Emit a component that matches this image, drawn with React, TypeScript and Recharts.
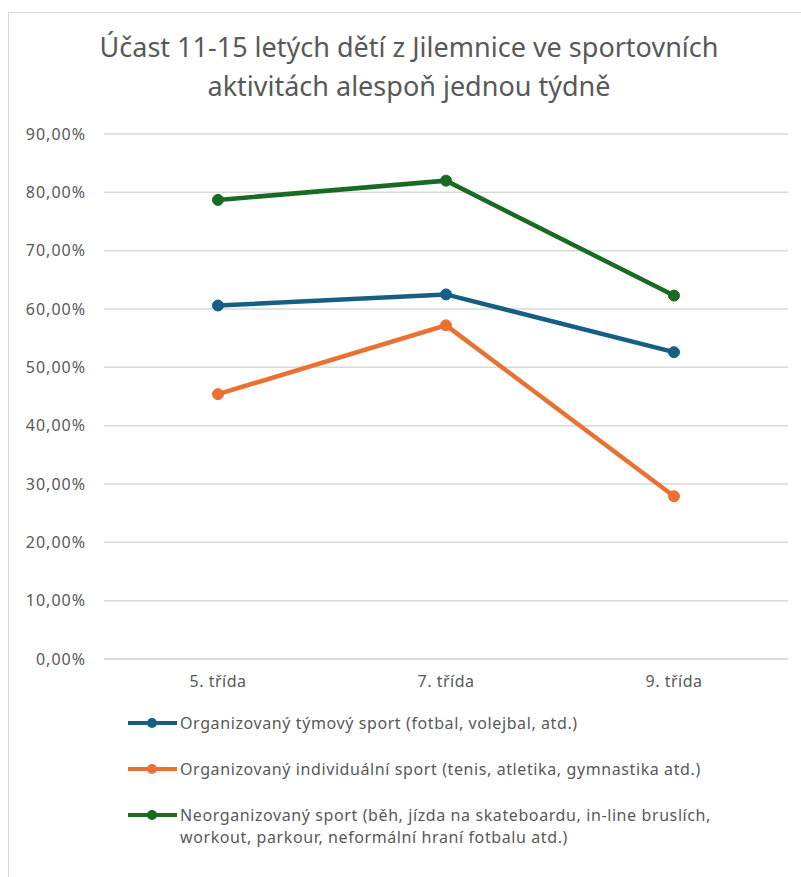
import React from "react";
import { LineChart, Line, XAxis, YAxis, CartesianGrid } from "recharts";

const categories = ["5. třída", "7. třída", "9. třída"];
const teamSport = [60.6, 62.5, 52.6];
const individualSport = [45.4, 57.2, 27.9];
const unorganizedSport = [78.7, 82.0, 62.3];
const yTicks = [0, 10, 20, 30, 40, 50, 60, 70, 80, 90];

const seriesNames = [
  "Organizovaný týmový sport (fotbal, volejbal, atd.)",
  "Organizovaný individuální sport (tenis, atletika, gymnastika atd.)",
  "Neorganizovaný sport (běh, jízda na skateboardu, in-line bruslích, workout, parkour, neformální hraní fotbalu atd.)",
];
const seriesColors = ["#156082", "#E97132", "#196B24"];
const titleLines = ["Účast 11-15 letých dětí z Jilemnice ve sportovních", "aktivitách alespoň jednou týdně"];

const data = categories.map((c, i) => ({
  name: c,
  team: teamSport[i],
  individual: individualSport[i],
  unorganized: unorganizedSport[i],
}));

const FONT = "'Noto Sans', sans-serif";
const TEXT = "#595959";

const fmt = (v: number) => v.toFixed(2).replace(".", ",") + "%";

const LegendBlock = () => (
  <div style={{ fontFamily: FONT, fontSize: 16, letterSpacing: 0.6, color: TEXT }}>
    {seriesNames.map((n, i) => (
      <div key={i} style={{ display: "flex", alignItems: "flex-start", marginBottom: 24 }}>
        <svg width={52} height={22} style={{ flex: "0 0 auto" }}>
          <line x1={0} y1={11} x2={49} y2={11} stroke={seriesColors[i]} strokeWidth={4} />
          <circle cx={24} cy={11} r={5} fill={seriesColors[i]} />
        </svg>
        <div style={{ width: 548, lineHeight: "22px", textAlign: "left" }}>{n}</div>
      </div>
    ))}
  </div>
);

const dotStyle = (c: string) => ({ r: 5.5, fill: c, stroke: c, strokeWidth: 1 });

export default function App() {
  return (
    <div style={{ position: "fixed", left: 0, top: 0, width: 801, height: 877, overflow: "hidden", background: "#fff" }}>
      <div
        style={{
          position: "absolute",
          left: 8,
          top: 12,
          width: 802,
          height: 900,
          border: "1.5px solid #d9d9d9",
          boxSizing: "border-box",
        }}
      />
      <div
        style={{
          position: "absolute",
          left: 8,
          top: 27,
          width: 802,
          textAlign: "center",
          fontFamily: FONT,
          fontSize: 27,
          lineHeight: "39px",
          color: TEXT,
        }}
      >
        {titleLines.map((t, i) => (
          <div key={i}>{t}</div>
        ))}
      </div>
      <div style={{ position: "absolute", left: 0, top: 0 }}>
        <LineChart width={801} height={877} data={data} margin={{ top: 134, bottom: 188, left: 14, right: 13 }}>
          <CartesianGrid vertical={false} stroke="#d9d9d9" strokeWidth={1.5} />
          <XAxis
            dataKey="name"
            height={30}
            padding={{ left: 114, right: 114 }}
            axisLine={{ stroke: "#d9d9d9", strokeWidth: 1.5 }}
            tickLine={false}
            tickSize={0}
            tickMargin={17}
            tick={{ fill: TEXT, fontSize: 16, fontFamily: FONT, letterSpacing: 0.5 }}
          />
          <YAxis
            width={90}
            domain={[0, 90]}
            ticks={yTicks}
            tickFormatter={fmt}
            axisLine={false}
            tickLine={false}
            tickSize={0}
            tickMargin={18}
            tick={{ fill: TEXT, fontSize: 16, fontFamily: FONT, letterSpacing: 1 }}
          />
          <Line dataKey="team" name={seriesNames[0]} stroke={seriesColors[0]} strokeWidth={4.5} dot={dotStyle(seriesColors[0])} isAnimationActive={false} />
          <Line dataKey="individual" name={seriesNames[1]} stroke={seriesColors[1]} strokeWidth={4.5} dot={dotStyle(seriesColors[1])} isAnimationActive={false} />
          <Line dataKey="unorganized" name={seriesNames[2]} stroke={seriesColors[2]} strokeWidth={4.5} dot={dotStyle(seriesColors[2])} isAnimationActive={false} />
        </LineChart>
      </div>
      <div style={{ position: "absolute", left: 128, top: 712 }}>
        <LegendBlock />
      </div>
    </div>
  );
}
